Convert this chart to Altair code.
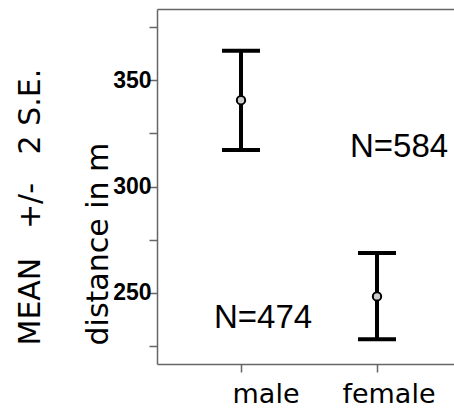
import altair as alt
import pandas as pd

groups = ["male", "female"]
means = [340.6, 248.3]
upper = [363.9, 268.7]
lower = [317.2, 228.2]
n_groups = ["male", "female"]
n_labels = ["N=474", "N=584"]
n_y = [233.5, 313.7]
y_ticks = [225, 250, 275, 300, 325, 350, 375]
NB = "\u00a0"
y_title = ["MEAN" + NB * 3 + "+/-" + NB * 3 + "2" + NB + "S.E.", "distance in m"]

df = pd.DataFrame({"group": groups, "mean": means, "upper": upper, "lower": lower})
ndf = pd.DataFrame({"group": n_groups, "label": n_labels, "y": n_y})

AX = "#666666"
W, H = 297, 355
STEP = 136.0
LEFT = 84.0
x_dom = [-LEFT / STEP, (W - LEFT) / STEP]
xscale = alt.Scale(domain=x_dom, nice=False, zero=False)
yscale = alt.Scale(domain=[216.5, 383.5], nice=False, zero=False)
idx_expr = "indexof(" + str(groups) + ", datum.group)"
lab_expr = str(groups) + "[datum.value]"

xaxis = alt.Axis(title=None, values=list(range(len(groups))), labelExpr=lab_expr,
                 labelFont="DejaVu Sans", labelFontSize=27, labelColor="black",
                 labelAlign="right", labelOffset=58, labelPadding=9, labelAngle=0,
                 tickSize=8, tickColor=AX, tickWidth=1.5, domainColor=AX, domainWidth=1.5,
                 grid=False)
yaxis = alt.Axis(values=y_ticks, labelExpr="datum.value % 50 == 0 ? datum.label : ''",
                 labelFont="Liberation Sans", labelFontWeight="bold", labelFontSize=23,
                 labelColor="black", labelPadding=-2, tickSize=8, tickColor=AX, tickWidth=1.5,
                 domainColor=AX, domainWidth=1.5, grid=False,
                 title=y_title, titleFont="DejaVu Sans", titleFontSize=30, titleFontWeight="normal",
                 titleColor="black", titleAngle=270, titleAlign="left", titleBaseline="alphabetic",
                 titleLineHeight=68, titleX=-118, titleY=336)

X = alt.X("idx:Q", scale=xscale, axis=xaxis)
base = alt.Chart(df).transform_calculate(idx=idx_expr)
bars = base.mark_rule(color="black", strokeWidth=4).encode(
    x=X, y=alt.Y("lower:Q", scale=yscale, axis=yaxis), y2="upper:Q",
)
cap_lo = base.mark_tick(color="black", thickness=4, size=38, opacity=1, orient="horizontal").encode(
    x=X, y=alt.Y("lower:Q", scale=yscale, axis=yaxis),
)
cap_hi = base.mark_tick(color="black", thickness=4, size=38, opacity=1, orient="horizontal").encode(
    x=X, y=alt.Y("upper:Q", scale=yscale, axis=yaxis),
)
pts = base.mark_point(shape="circle", size=70, filled=True, fill="#cccccc", stroke="black",
                      strokeWidth=2, opacity=1).encode(
    x=X, y=alt.Y("mean:Q", scale=yscale, axis=yaxis),
)
txt = alt.Chart(ndf).transform_calculate(idx=idx_expr).mark_text(
    font="Liberation Sans", fontSize=33, color="black",
    align="center", baseline="alphabetic", dx=22).encode(
    x=X, y=alt.Y("y:Q", scale=yscale, axis=yaxis), text="label:N",
)
main = alt.layer(bars, cap_lo, cap_hi, pts, txt)

top = base.mark_point(opacity=0).encode(
    x=alt.X("idx:Q", scale=xscale,
            axis=alt.Axis(orient="top", labels=False, ticks=False, title=None,
                          domainColor=AX, domainWidth=1.5, grid=False)),
    y=alt.Y("mean:Q", scale=yscale, axis=yaxis),
)

chart = alt.layer(main, top).resolve_scale(x="independent").properties(
    width=W, height=H,
    autosize=alt.AutoSizeParams(type="none"),
    padding={"left": 157, "top": 9, "right": 0, "bottom": 45},
    background="white",
).configure_view(stroke=None)

chart.save("out.html", embed_options={"renderer": "svg", "actions": False})
